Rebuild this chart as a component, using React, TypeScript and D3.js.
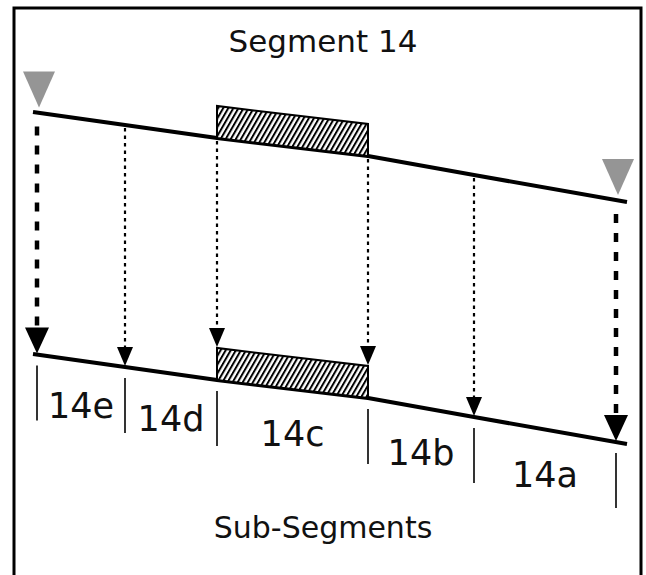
import React from 'react';
import * as d3 from 'd3';

// Road profile (station in m, elevation in m)
const profileStations = [0, 92, 184, 335, 441, 594];
const profileElev = [100, 87, 74, 56, 37, 10];
// Sub-segment boundary stations
const boundaries = [4, 92, 184, 335, 441, 583];
// Structure (hatched) between stations, with its height in m
const structureStart = 184;
const structureEnd = 335;
const structureHeight = 32;
// Labels
const subLabels = ['14e', '14d', '14c', '14b', '14a'];
const titleTop = 'Segment 14';
const titleBottom = 'Sub-Segments';
// Panel offsets (upper profile and lower profile), in elevation units
const panelShift = [0, 242];

const W = 646;
const H = 575;

export default function App() {
  const x = d3.scaleLinear().domain([0, 600]).range([33, 633]);
  const y = d3.scaleLinear().domain([0, 100]).range([212, 112]);
  const elevAt = d3.scaleLinear().domain(profileStations).range(profileElev);

  const profY = (s: number, shift: number) => y(elevAt(s)) + shift;

  const lineGen = (shift: number) =>
    d3
      .line<number>()
      .x((s) => x(s))
      .y((s) => profY(s, shift))(profileStations) as string;

  const sH = y(0) - y(structureHeight);

  const structPath = (shift: number) => {
    const x0 = x(structureStart);
    const x1 = x(structureEnd);
    const b0 = profY(structureStart, shift);
    const b1 = profY(structureEnd, shift);
    return `M${x0},${b0} L${x0},${b0 - sH} L${x1},${b1 - sH} L${x1},${b1} Z`;
  };

  const lowShift = panelShift[1];

  const arrows = boundaries.map((s, i) => {
    const outer = i === 0 || i === boundaries.length - 1;
    const onStruct = s === structureStart || s === structureEnd;
    const startY = profY(s, 0) + (outer ? 14 : 3);
    const targetY = profY(s, lowShift) - (onStruct ? sH : 0) - 1;
    const hw = outer ? 12 : 8;
    const hh = outer ? 26 : 19;
    return { s, outer, startY, targetY, hw, hh };
  });

  const ticks = boundaries.map((s) => {
    const base = profY(s, lowShift);
    return { s, y1: base + 11, y2: base + 66 };
  });

  const labels = subLabels.map((t, i) => {
    const mid = (boundaries[i] + boundaries[i + 1]) / 2;
    const base = profY(mid, lowShift);
    return { t, xm: x(mid), yb: base + 57 };
  });

  const triangles = [boundaries[0], boundaries[boundaries.length - 1]].map((s) => {
    const tipY = profY(s, 0) - 5;
    return { cx: x(s) + 2, tipY };
  });

  const font = "'DejaVu Sans', sans-serif";

  return (
    <svg width={W} height={H} style={{ position: 'absolute', left: 0, top: 0, background: '#fff' }}>
      <defs>
        <pattern id="hatch" width="4.4" height="10" patternUnits="userSpaceOnUse" patternTransform="rotate(30)">
          <line x1="1" y1="0" x2="1" y2="10" stroke="#000" strokeWidth="2" />
        </pattern>
      </defs>
      <rect x={0} y={0} width={W} height={H} fill="#fff" />
      {/* frame */}
      <path d={`M14,${H + 5} V8 H641 V${H + 5}`} fill="none" stroke="#000" strokeWidth={3} />

      <text x={323} y={52} textAnchor="middle" fontFamily={font} fontSize={31} fill="#111">
        {titleTop}
      </text>

      {/* triangles */}
      {triangles.map((t, i) => (
        <path
          key={'tri' + i}
          d={`M${t.cx - 16},${t.tipY - 36} L${t.cx + 16},${t.tipY - 36} L${t.cx},${t.tipY} Z`}
          fill="#959595"
        />
      ))}

      {/* arrows */}
      {arrows.map((a, i) => (
        <g key={'ar' + i}>
          <line
            x1={x(a.s)}
            x2={x(a.s)}
            y1={a.startY}
            y2={a.targetY - a.hh + 2}
            stroke="#000"
            strokeWidth={a.outer ? 4.5 : 2.2}
            strokeDasharray={a.outer ? '9 10' : '3.5 4'}
          />
          <path
            d={`M${x(a.s) - a.hw},${a.targetY - a.hh} L${x(a.s) + a.hw},${a.targetY - a.hh} L${x(a.s)},${a.targetY} Z`}
            fill="#000"
          />
        </g>
      ))}

      {/* profiles */}
      {panelShift.map((sh, i) => (
        <g key={'p' + i}>
          <path d={lineGen(sh)} fill="none" stroke="#000" strokeWidth={4} strokeLinejoin="round" />
          <path d={structPath(sh)} fill="#fff" stroke="none" />
          <path d={structPath(sh)} fill="url(#hatch)" stroke="#000" strokeWidth={2} />
        </g>
      ))}

      {/* sub-segment ticks */}
      {ticks.map((t, i) => (
        <line key={'tk' + i} x1={x(t.s)} x2={x(t.s)} y1={t.y1} y2={t.y2} stroke="#000" strokeWidth={1.6} />
      ))}

      {labels.map((l, i) => (
        <text key={'lb' + i} x={l.xm} y={l.yb} textAnchor="middle" fontFamily={font} fontSize={35} fill="#111">
          {l.t}
        </text>
      ))}

      <text x={323} y={538} textAnchor="middle" fontFamily={font} fontSize={30} fill="#111">
        {titleBottom}
      </text>
    </svg>
  );
}
